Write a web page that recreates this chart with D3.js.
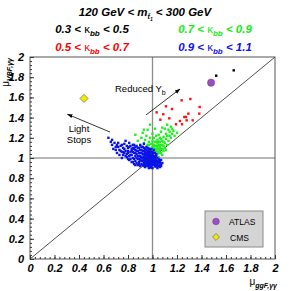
<!DOCTYPE html>
<html>
<head>
<meta charset="utf-8">
<script src="https://cdn.jsdelivr.net/npm/d3@7"></script>
<style>
  body { margin: 0; background: #fff; }
  svg { display: block; font-family: "Liberation Sans", Arial, sans-serif; }
  .tick text { font-size: 11px; font-weight: bold; font-style: italic; fill: #000; }
</style>
</head>
<body>
<svg id="chart" width="291" height="291"></svg>
<script>
// values (mu_ggF, mu_VBF)
const blackPts = [[1.52,1.815],[1.663,1.868]];

const redPts = [
  [1.238,1.571],[1.309,1.584],[1.110,1.512],[1.159,1.485],[1.385,1.505],
  [1.034,1.452],[1.088,1.433],[1.293,1.439],[1.382,1.439],[1.137,1.393],
  [1.064,1.379],[1.260,1.406],[1.273,1.406],[1.279,1.373],[1.224,1.366],
  [1.328,1.373],[1.192,1.334],[1.241,1.334]
];

const greenPts = [
  [0.86,1.23],[0.88,1.17],[0.90,1.12],[0.91,1.20],[0.92,1.25],[0.93,1.15],[0.94,1.09],[0.94,1.18],
  [0.95,1.22],[0.96,1.13],[0.96,1.28],[0.97,1.16],[0.97,1.10],[0.98,1.20],[0.98,1.33],[0.99,1.14],
  [0.99,1.07],[1.00,1.17],[1.00,1.11],[1.00,1.24],[1.01,1.05],[1.01,1.13],[1.01,1.20],[1.02,1.09],
  [1.02,1.16],[1.02,1.29],[1.03,1.07],[1.03,1.12],[1.03,1.22],[1.04,1.04],[1.04,1.10],[1.04,1.15],
  [1.04,1.18],[1.05,1.06],[1.05,1.13],[1.05,1.23],[1.06,1.08],[1.06,1.11],[1.06,1.16],[1.06,1.20],
  [1.07,1.05],[1.07,1.13],[1.07,1.26],[1.08,1.09],[1.08,1.17],[1.08,1.30],[1.09,1.07],[1.09,1.12],
  [1.09,1.21],[1.10,1.15],[1.10,1.10],[1.11,1.19],[1.11,1.24],[1.12,1.13],[1.12,1.33],[1.13,1.17],
  [1.13,1.28],[1.14,1.22],[1.14,1.26],[1.15,1.20],[1.15,1.31],[1.16,1.24],[1.17,1.27],[1.18,1.22],
  [1.20,1.25],[1.03,1.02],[1.05,1.01],[0.99,1.03],[1.08,1.03],[1.11,1.08],[0.95,1.05],[1.00,1.08],
  [1.03,1.16],[1.07,1.19],[1.10,1.29],[0.93,1.28],[1.12,1.22],[1.16,1.29],
  [1.01,1.10],[1.02,1.12],[1.03,1.09],[1.04,1.07],[1.05,1.09],[1.05,1.16],[1.06,1.05],[1.07,1.09],
  [1.08,1.13],[1.09,1.16],[1.02,1.06],[0.98,1.09],[0.97,1.13],[1.00,1.14],[1.06,1.13],[1.04,1.12]
];

const bluePts = [
  // dense core
  [0.93,0.95],[0.93,0.98],[0.93,1.01],[0.94,0.93],[0.94,0.97],[0.94,1.00],[0.94,1.03],[0.95,0.94],
  [0.95,0.96],[0.95,0.99],[0.95,1.02],[0.95,1.05],[0.96,0.92],[0.96,0.95],[0.96,0.97],[0.96,1.00],
  [0.96,1.03],[0.97,0.93],[0.97,0.96],[0.97,0.98],[0.97,1.01],[0.97,1.04],[0.98,0.94],[0.98,0.96],
  [0.98,0.99],[0.98,1.02],[0.98,1.05],[0.99,0.92],[0.99,0.95],[0.99,0.97],[0.99,1.00],[0.99,1.03],
  [1.00,0.93],[1.00,0.96],[1.00,0.98],[1.00,1.01],[1.00,1.04],[1.01,0.94],[1.01,0.96],[1.01,0.99],
  [1.01,1.02],[1.02,0.92],[1.02,0.95],[1.02,0.97],[1.02,1.00],[1.03,0.93],[1.03,0.96],[1.03,0.98],
  [1.04,0.94],[1.04,0.97],[1.05,0.92],[1.05,0.95],[1.06,0.93],[1.06,0.96],[1.07,0.94],[1.08,0.95],
  [0.935,0.965],[0.945,0.985],[0.955,0.975],[0.965,0.985],[0.975,0.965],[0.985,0.975],[0.995,0.985],
  [1.005,0.975],[1.015,0.985],[0.965,0.945],[0.975,0.945],[0.985,0.955],[0.995,0.945],[1.005,0.955],
  [1.015,0.935],[0.955,1.015],[0.965,1.025],[0.975,1.035],[0.985,1.015],[0.995,1.025],[1.005,1.015],
  [0.945,1.045],[0.925,1.035],[0.915,0.975],[0.905,1.005],[1.025,0.915],[0.985,0.905],[1.045,0.955],
  [1.035,0.925],[1.055,0.975],[0.975,0.915],[0.955,0.925],
  // spread towards light stops
  [0.64,1.20],[0.66,1.16],[0.67,1.13],[0.69,1.15],[0.70,1.11],[0.71,1.05],[0.72,1.15],[0.73,1.08],
  [0.74,1.12],[0.75,1.06],[0.76,1.03],[0.76,1.10],[0.77,1.14],[0.78,1.07],[0.79,1.01],[0.80,1.10],
  [0.80,1.05],[0.81,0.98],[0.82,1.12],[0.82,1.03],[0.83,1.07],[0.83,0.96],[0.84,1.10],[0.84,1.00],
  [0.85,1.05],[0.85,0.94],[0.86,1.08],[0.86,1.02],[0.86,0.97],[0.87,1.12],[0.87,1.04],[0.88,0.99],
  [0.88,1.07],[0.88,0.93],[0.89,1.10],[0.89,1.02],[0.89,0.96],[0.90,1.05],[0.90,0.98],[0.90,1.13],
  [0.91,1.08],[0.91,1.01],[0.91,0.94],[0.92,1.11],[0.92,1.04],[0.92,0.97],[0.93,1.07],[0.93,1.14],
  [0.94,1.09],[0.95,1.11],[0.96,1.07],[0.97,1.09],[0.98,1.07],[0.99,1.09],[1.00,1.06],[1.01,1.08],
  [1.02,1.05],[1.03,1.02],[1.04,1.00],[1.05,0.99],[1.06,0.91],[1.07,0.98],[1.04,0.90],[1.00,0.90],
  [0.97,0.90],[0.94,0.91],[0.92,0.93],[0.78,1.17],[0.81,1.15],[0.85,1.13],[0.75,1.00],[0.73,1.03],
  [0.68,1.09],[0.87,0.95],[0.90,0.92],
  // filling the middle of the cloud
  [0.70,1.08],[0.72,1.11],[0.74,1.07],[0.75,1.13],[0.77,1.05],[0.77,1.09],[0.79,1.12],[0.79,1.04],
  [0.80,1.07],[0.81,1.02],[0.81,1.11],[0.82,1.06],[0.82,0.99],[0.83,1.09],[0.83,1.03],[0.84,1.06],
  [0.84,1.13],[0.85,0.99],[0.85,1.09],[0.86,1.05],[0.86,1.11],[0.87,1.00],[0.87,1.07],[0.88,1.02],
  [0.88,1.10],[0.89,0.99],[0.89,1.05],[0.90,1.08],[0.90,1.02],[0.91,0.97],[0.91,1.05],[0.91,1.11],
  [0.92,1.00],[0.92,1.07],[0.93,1.04],[0.93,1.10],[0.94,1.06],[0.95,1.08],[0.96,1.05],[0.96,1.10],
  [0.97,1.06],[0.98,1.08],[0.99,1.06],[1.01,1.05],[0.78,1.02],[0.76,1.06],[0.71,1.13],[0.67,1.18],
  [0.80,0.99],[0.84,0.96],[0.86,0.93],[0.89,0.94],[0.93,0.92],[1.03,1.04],[1.06,0.98],[1.07,0.92]
];

const atlasPt = [1.478,1.746];
const cmsPt = [0.441,1.59];

const xTicks = [0,0.2,0.4,0.6,0.8,1,1.2,1.4,1.6,1.8,2];
const yTicks = [0,0.2,0.4,0.6,0.8,1,1.2,1.4,1.6,1.8,2];

const svg = d3.select("#chart");
const margin = {top: 57, right: 16, bottom: 32, left: 30};
const width = 291 - margin.left - margin.right,
      height = 291 - margin.top - margin.bottom;

const x = d3.scaleLinear().domain([0, 2]).range([margin.left, margin.left + width]);
const y = d3.scaleLinear().domain([0, 2]).range([margin.top + height, margin.top]);

// reference lines
svg.append("line")
  .attr("x1", x(1)).attr("x2", x(1)).attr("y1", y(0)).attr("y2", y(2))
  .attr("stroke", "#8c8c8c").attr("stroke-width", 1.3);
svg.append("line")
  .attr("x1", x(0)).attr("x2", x(2)).attr("y1", y(1)).attr("y2", y(1))
  .attr("stroke", "#707070").attr("stroke-width", 1.1);
svg.append("line")
  .attr("x1", x(0)).attr("x2", x(2)).attr("y1", y(0)).attr("y2", y(2))
  .attr("stroke", "#222").attr("stroke-width", 0.8);

// scatter points
const sz = 2.4;
const drawPts = (pts, col) => {
  svg.append("g").selectAll("rect").data(pts).join("rect")
    .attr("x", d => x(d[0]) - sz / 2)
    .attr("y", d => y(d[1]) - sz / 2)
    .attr("width", sz).attr("height", sz)
    .attr("fill", col);
};
drawPts(blackPts, "#000");
drawPts(redPts, "#ff1010");
drawPts(greenPts, "#22ee22");
drawPts(bluePts, "#0a14e6");

// frame
svg.append("rect")
  .attr("x", x(0)).attr("y", y(2))
  .attr("width", x(2) - x(0)).attr("height", y(0) - y(2))
  .attr("fill", "none").attr("stroke", "#555").attr("stroke-width", 1);

// axes, ticks pointing into the frame
const fmt = d3.format("~g");
svg.append("g").attr("transform", `translate(0,${y(0)})`)
  .call(d3.axisBottom(x).tickValues(xTicks).tickFormat(fmt).tickSizeInner(-4).tickSizeOuter(0).tickPadding(5));
svg.append("g").attr("transform", `translate(${x(0)},0)`)
  .call(d3.axisLeft(y).tickValues(yTicks).tickFormat(fmt).tickSizeInner(-4).tickSizeOuter(0).tickPadding(6));
const minor = d3.range(0, 51).map(i => i * 0.04);
svg.append("g").attr("transform", `translate(0,${y(0)})`)
  .call(d3.axisBottom(x).tickValues(minor).tickFormat("").tickSizeInner(-2).tickSizeOuter(0));
svg.append("g").attr("transform", `translate(${x(0)},0)`)
  .call(d3.axisLeft(y).tickValues(minor).tickFormat("").tickSizeInner(-2).tickSizeOuter(0));
svg.selectAll(".domain").remove();
svg.selectAll(".tick line").attr("stroke", "#333");

// axis titles
const yl = svg.append("text")
  .attr("transform", `translate(9,${margin.top + 1}) rotate(-90)`)
  .attr("text-anchor", "end").attr("font-size", 10);
yl.append("tspan").text("\u03bc");
yl.append("tspan").attr("dy", 2.5).attr("font-size", 7).attr("font-style", "italic").attr("font-weight", "bold").text("VBF,\u03b3\u03b3");

const xl = svg.append("text")
  .attr("x", 277).attr("y", 285)
  .attr("text-anchor", "end").attr("font-size", 10);
xl.append("tspan").text("\u03bc");
xl.append("tspan").attr("dy", 2.5).attr("font-size", 7).attr("font-style", "italic").attr("font-weight", "bold").text("ggF,\u03b3\u03b3");

// title
const title = svg.append("text")
  .attr("x", 145).attr("y", 16).attr("text-anchor", "middle")
  .attr("font-size", 11.5).attr("font-weight", "bold").attr("font-style", "italic");
title.append("tspan").text("120 GeV < m");
title.append("tspan").attr("dy", 3).attr("font-size", 7).text("t\u0303");
title.append("tspan").attr("dy", 2).attr("font-size", 5).text("1");
title.append("tspan").attr("dy", -5).text(" < 300 GeV");

// kappa_bb ranges
const ranges = [
  {lo: "0.3", hi: "0.5", col: "#000", cx: 92, cy: 33},
  {lo: "0.7", hi: "0.9", col: "#11ee11", cx: 215, cy: 33},
  {lo: "0.5", hi: "0.7", col: "#ff0000", cx: 92, cy: 51},
  {lo: "0.9", hi: "1.1", col: "#1010ee", cx: 215, cy: 51}
];
ranges.forEach(r => {
  const t = svg.append("text").attr("x", r.cx).attr("y", r.cy)
    .attr("text-anchor", "middle").attr("fill", r.col)
    .attr("font-size", 11.5).attr("font-weight", "bold").attr("font-style", "italic");
  t.append("tspan").text(r.lo + " < ");
  t.append("tspan").attr("font-style", "normal").attr("font-weight", "normal").text("\u03ba");
  t.append("tspan").attr("dy", 3).attr("font-size", 8).text("bb");
  t.append("tspan").attr("dy", -3).text(" < " + r.hi);
});

// annotations
const defs = svg.append("defs");
defs.append("marker").attr("id", "ah")
  .attr("viewBox", "0 0 10 10").attr("refX", 9).attr("refY", 5)
  .attr("markerWidth", 7).attr("markerHeight", 7).attr("orient", "auto")
  .append("path").attr("d", "M0,1.5 L10,5 L0,8.5 Z").attr("fill", "#000");

svg.append("line")
  .attr("x1", x(0.653)).attr("y1", y(1.257)).attr("x2", x(0.306)).attr("y2", y(1.433))
  .attr("stroke", "#000").attr("stroke-width", 0.8).attr("marker-end", "url(#ah)");
svg.append("line")
  .attr("x1", x(0.947)).attr("y1", y(1.426)).attr("x2", x(1.224)).attr("y2", y(1.683))
  .attr("stroke", "#000").attr("stroke-width", 0.8).attr("marker-end", "url(#ah)");

const rt = svg.append("text").attr("x", x(0.694)).attr("y", y(1.653)).attr("font-size", 9.5);
rt.append("tspan").text("Reduced Y");
rt.append("tspan").attr("dy", 2.5).attr("font-size", 7).text("b");

svg.append("text").attr("x", x(0.40)).attr("y", y(1.262)).attr("text-anchor", "middle")
  .attr("font-size", 9.5).text("Light");
svg.append("text").attr("x", x(0.40)).attr("y", y(1.152)).attr("text-anchor", "middle")
  .attr("font-size", 9.5).text("Stops");

// experimental points
svg.append("circle").attr("cx", x(atlasPt[0])).attr("cy", y(atlasPt[1])).attr("r", 3.6)
  .attr("fill", "#9b4fc4").attr("stroke", "#6a2f8a").attr("stroke-width", 0.5);
svg.append("path")
  .attr("d", d3.symbol(d3.symbolDiamond2, 42)())
  .attr("transform", `translate(${x(cmsPt[0])},${y(cmsPt[1])})`)
  .attr("fill", "#f3ea00").attr("stroke", "#555").attr("stroke-width", 0.6);

// legend box
const lg = svg.append("g").attr("transform", "translate(205,211)");
lg.append("rect").attr("width", 58).attr("height", 36)
  .attr("fill", "#d4d4d4").attr("stroke", "#8a8a8a").attr("stroke-width", 1);
lg.append("circle").attr("cx", 11).attr("cy", 10.5).attr("r", 3.3)
  .attr("fill", "#9b4fc4").attr("stroke", "#6a2f8a").attr("stroke-width", 0.5);
lg.append("path").attr("d", d3.symbol(d3.symbolDiamond2, 30)())
  .attr("transform", "translate(11,26)")
  .attr("fill", "#f3ea00").attr("stroke", "#555").attr("stroke-width", 0.6);
lg.append("text").attr("x", 24).attr("y", 14).attr("font-size", 8.5).text("ATLAS");
lg.append("text").attr("x", 25).attr("y", 29.5).attr("font-size", 8.5).text("CMS");
</script>
</body>
</html>
